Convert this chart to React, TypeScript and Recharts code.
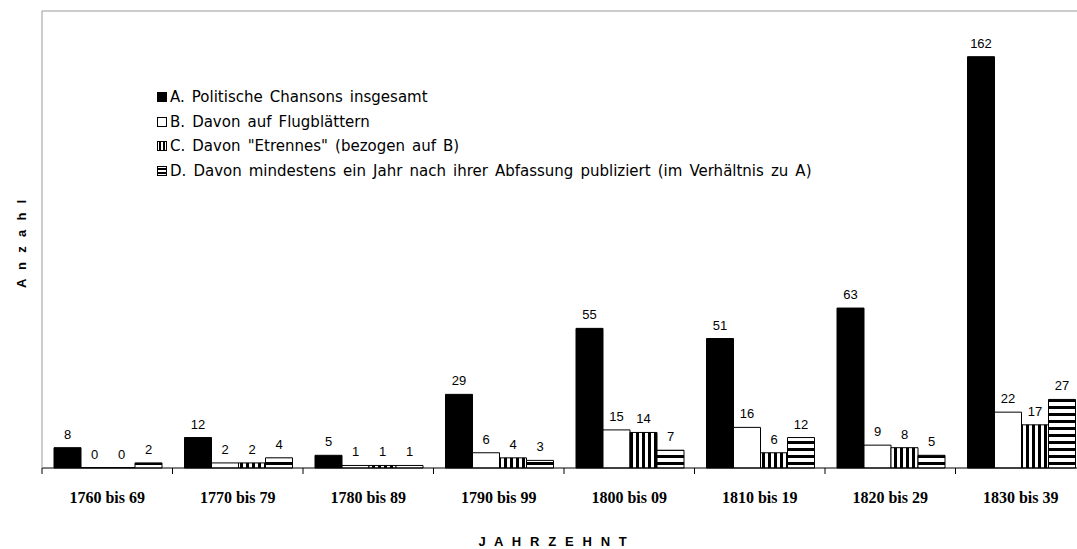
import { BarChart, Bar, XAxis, YAxis, LabelList, Legend, ReferenceLine } from "recharts";

const decades = [
  "1760 bis 69",
  "1770 bis 79",
  "1780 bis 89",
  "1790 bis 99",
  "1800 bis 09",
  "1810 bis 19",
  "1820 bis 29",
  "1830 bis 39",
];
const insgesamt = [8, 12, 5, 29, 55, 51, 63, 162];
const flugblaetter = [0, 2, 1, 6, 15, 16, 9, 22];
const etrennes = [0, 2, 1, 4, 14, 6, 8, 17];
const spaeter = [2, 4, 1, 3, 7, 12, 5, 27];

const seriesNames = [
  "A. Politische Chansons insgesamt",
  "B. Davon auf Flugblättern",
  'C. Davon "Etrennes" (bezogen auf B)',
  "D. Davon mindestens ein Jahr nach ihrer Abfassung publiziert (im Verhältnis zu A)",
];

const data = decades.map((decade, i) => ({
  decade,
  a: insgesamt[i],
  b: flugblaetter[i],
  c: etrennes[i],
  d: spaeter[i],
}));

const SANS = "'Liberation Sans', Arial, sans-serif";
const SERIF = "'Liberation Serif', 'Times New Roman', serif";

function DecadeTick(props: any) {
  const { x, y, payload } = props;
  const off = payload && payload.offset != null ? payload.offset : 65;
  return (
    <g>
      <line x1={x - off} y1={y} x2={x - off} y2={y + 6} stroke="#000" />
      <text
        x={x}
        y={y + 35}
        textAnchor="middle"
        fontFamily={SERIF}
        fontWeight="bold"
        fontSize={16}
        fill="#000"
      >
        {payload.value}
      </text>
    </g>
  );
}

function Marker({ kind }: { kind: number }) {
  return (
    <svg width={10} height={10} style={{ marginRight: 3, flexShrink: 0 }}>
      <rect x={0.5} y={0.5} width={9} height={9} fill={kind === 0 ? "#000" : "#fff"} stroke="#000" />
      {kind === 2 && (
        <>
          <rect x={2} y={1} width={2} height={8} fill="#000" />
          <rect x={6} y={1} width={2} height={8} fill="#000" />
        </>
      )}
      {kind === 3 && (
        <>
          <rect x={1} y={2} width={8} height={2} fill="#000" />
          <rect x={1} y={6} width={8} height={2} fill="#000" />
        </>
      )}
    </svg>
  );
}

function LegendBox() {
  return (
    <div
      style={{
        fontFamily: "'DejaVu Sans', Verdana, sans-serif",
        fontSize: 15,
        wordSpacing: 2.3,
        color: "#000",
      }}
    >
      {seriesNames.map((name, i) => (
        <div key={i} style={{ display: "flex", alignItems: "center", height: 24.5, whiteSpace: "nowrap" }}>
          <Marker kind={i} />
          {name}
        </div>
      ))}
    </div>
  );
}

const labelStyle = { fontSize: 13, fill: "#000", fontFamily: SANS };

export default function App() {
  return (
    <div
      style={{
        position: "absolute",
        left: 0,
        top: 0,
        width: 1077,
        height: 549,
        overflow: "hidden",
        background: "#fff",
      }}
    >
      <BarChart
        width={1090}
        height={549}
        data={data}
        margin={{ top: 11, right: 4, left: 41, bottom: 41 }}
        barCategoryGap={12}
        barGap={0}
      >
        <defs>
          <pattern id="vstripe" width={6} height={6} patternUnits="userSpaceOnUse">
            <rect width={6} height={6} fill="#fff" />
            <rect x={0} y={0} width={3} height={6} fill="#000" />
          </pattern>
          <pattern id="hstripe" width={7} height={7} patternUnits="userSpaceOnUse">
            <rect width={7} height={7} fill="#fff" />
            <rect x={0} y={0} width={7} height={3} fill="#000" />
          </pattern>
        </defs>
        <XAxis
          dataKey="decade"
          height={40}
          axisLine={{ stroke: "#000" }}
          tickLine={false}
          tickSize={0}
          tickMargin={0}
          interval={0}
          tick={<DecadeTick />}
          label={{
            content: (p: any) => {
              const vb = p.viewBox || { x: 42, y: 468, width: 1044, height: 40 };
              return (
                <text
                  x={vb.x + vb.width / 2 - 10}
                  y={vb.y + 78}
                  textAnchor="middle"
                  fontFamily={SANS}
                  fontWeight="bold"
                  fontSize={13}
                  letterSpacing={2.6}
                  fill="#000"
                >
                  J A H R Z E H N T
                </text>
              );
            },
          }}
        />
        <YAxis
          width={1}
          domain={[0, 180]}
          tick={false}
          tickLine={false}
          axisLine={{ stroke: "#999" }}
          label={{
            content: (p: any) => {
              const vb = p.viewBox || { x: 41, y: 11, width: 1, height: 457 };
              const cx = 21;
              const cy = vb.y + vb.height / 2 + 3;
              return (
                <text
                  x={cx}
                  y={cy}
                  transform={`rotate(-90 ${cx} ${cy})`}
                  textAnchor="middle"
                  dominantBaseline="central"
                  fontFamily={SANS}
                  fontWeight="bold"
                  fontSize={13}
                  letterSpacing={2.8}
                  fill="#000"
                >
                  A n z a h l
                </text>
              );
            },
          }}
        />
        <ReferenceLine y={180} stroke="#999" />
        <Legend
          layout="vertical"
          align="center"
          verticalAlign="middle"
          content={<LegendBox />}
          wrapperStyle={{ left: 157, top: 85, width: 780 }}
        />
        <Bar dataKey="a" name={seriesNames[0]} fill="#000" stroke="#000" minPointSize={0.4} isAnimationActive={false}>
          <LabelList dataKey="a" position="top" offset={9} style={labelStyle} />
        </Bar>
        <Bar dataKey="b" name={seriesNames[1]} fill="#fff" stroke="#000" minPointSize={0.4} isAnimationActive={false}>
          <LabelList dataKey="b" position="top" offset={9} style={labelStyle} />
        </Bar>
        <Bar dataKey="c" name={seriesNames[2]} fill="url(#vstripe)" stroke="#000" minPointSize={0.4} isAnimationActive={false}>
          <LabelList dataKey="c" position="top" offset={9} style={labelStyle} />
        </Bar>
        <Bar dataKey="d" name={seriesNames[3]} fill="url(#hstripe)" stroke="#000" minPointSize={0.4} isAnimationActive={false}>
          <LabelList dataKey="d" position="top" offset={9} style={labelStyle} />
        </Bar>
      </BarChart>
    </div>
  );
}
